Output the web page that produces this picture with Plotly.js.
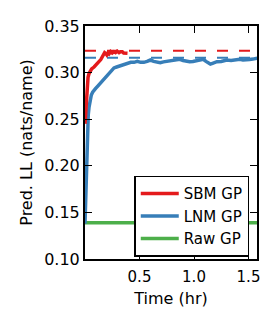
<!DOCTYPE html>
<html><head><meta charset="utf-8">
<script src="https://cdn.plot.ly/plotly-3.0.1.min.js"></script>
<style>html,body{margin:0;padding:0;background:#fff;}#chart{width:276px;height:327px;}</style>
</head><body><div id="chart"></div>
<script>
const sbmT = [0, 0.005, 0.009, 0.015, 0.021, 0.028, 0.037, 0.046, 0.061, 0.083, 0.107, 0.128, 0.145, 0.159, 0.17, 0.18, 0.19, 0.2, 0.21, 0.22, 0.235, 0.25, 0.266, 0.28, 0.295, 0.312, 0.325, 0.342, 0.355, 0.37, 0.39];
const sbmV = [0.245, 0.255, 0.267, 0.279, 0.289, 0.295, 0.299, 0.301, 0.304, 0.306, 0.309, 0.311, 0.314, 0.317, 0.319, 0.3214, 0.3205, 0.319, 0.321, 0.320, 0.3225, 0.321, 0.3224, 0.3215, 0.323, 0.3214, 0.3224, 0.3224, 0.321, 0.3205, 0.3207];
const lnmT = [0, 0.005, 0.01, 0.015, 0.021, 0.03, 0.037, 0.045, 0.058, 0.07, 0.085, 0.098, 0.113, 0.128, 0.143, 0.159, 0.175, 0.19, 0.205, 0.22, 0.24, 0.266, 0.29, 0.312, 0.335, 0.358, 0.39, 0.42, 0.45, 0.48, 0.51, 0.54, 0.57, 0.6, 0.63, 0.66, 0.69, 0.72, 0.75, 0.78, 0.81, 0.84, 0.87, 0.9, 0.93, 0.96, 0.99, 1.02, 1.05, 1.085, 1.11, 1.13, 1.15, 1.17, 1.21, 1.25, 1.3, 1.34, 1.38, 1.42, 1.45, 1.48, 1.51, 1.54, 1.56, 1.58];
const lnmV = [0.138, 0.16, 0.19, 0.22, 0.245, 0.255, 0.263, 0.27, 0.276, 0.279, 0.282, 0.283, 0.285, 0.287, 0.288, 0.290, 0.292, 0.294, 0.297, 0.299, 0.302, 0.305, 0.306, 0.307, 0.308, 0.309, 0.310, 0.311, 0.311, 0.312, 0.311, 0.311, 0.312, 0.3135, 0.312, 0.311, 0.3106, 0.3115, 0.312, 0.3128, 0.313, 0.3135, 0.3143, 0.313, 0.312, 0.3117, 0.312, 0.3128, 0.313, 0.3143, 0.312, 0.310, 0.3092, 0.310, 0.3117, 0.312, 0.3135, 0.313, 0.3135, 0.3143, 0.3135, 0.3135, 0.314, 0.3145, 0.315, 0.3155];
const rawT = [0, 1.6];
const rawV = [0.139, 0.139];
const sbmBest = 0.3235;
const lnmBest = 0.3158;
const fullT = [0, 1.6];
const yTicks = [0.10, 0.15, 0.20, 0.25, 0.30, 0.35];
const yTickText = ['0.10', '0.15', '0.20', '0.25', '0.30', '0.35'];
const xTicks = [0.5, 1.0, 1.5];
const xTickText = ['0.5', '1.0', '1.5'];

const red = '#e41a1c', blue = '#377eb8', green = '#4daf4a';
const FONT = 'DejaVu Sans, sans-serif';

const traces = [
  {x: fullT, y: [sbmBest, sbmBest], mode: 'lines', line: {color: red, width: 2, dash: '11px,11px'}, showlegend: false, hoverinfo: 'skip'},
  {x: fullT, y: [lnmBest, lnmBest], mode: 'lines', line: {color: blue, width: 2, dash: '11px,11px'}, showlegend: false, hoverinfo: 'skip'},
  {x: rawT, y: rawV, mode: 'lines', name: 'Raw GP', line: {color: green, width: 3.5}, legendgroup: 'c', legendrank: 3},
  {x: lnmT, y: lnmV, mode: 'lines', name: 'LNM GP', line: {color: blue, width: 3.5}, legendgroup: 'b', legendrank: 2},
  {x: sbmT, y: sbmV, mode: 'lines', name: 'SBM GP', line: {color: red, width: 3.5}, legendgroup: 'a', legendrank: 1}
];

const axisCommon = {
  showgrid: false, zeroline: false, showline: true, linecolor: '#000', linewidth: 2,
  mirror: 'allticks', ticks: 'inside', ticklen: 7, tickwidth: 1, tickcolor: '#000'
};

const layout = {
  width: 276, height: 327,
  margin: {l: 85, r: 19, t: 26, b: 68},
  paper_bgcolor: '#fff', plot_bgcolor: '#fff',
  xaxis: Object.assign({}, axisCommon, {
    range: [0, 1.578], tickvals: xTicks, ticktext: xTickText, ticklabelstandoff: 3,
    tickfont: {family: FONT, size: 15, color: '#000'},
    title: {text: 'Time (hr)', font: {family: FONT, size: 16, color: '#000'}, standoff: 8}
  }),
  yaxis: Object.assign({}, axisCommon, {
    range: [0.10, 0.35], tickvals: yTicks, ticktext: yTickText,
    tickfont: {family: FONT, size: 16, color: '#000'},
    title: {text: 'Pred. LL (nats/name)', font: {family: FONT, size: 16, color: '#000'}, standoff: 8}
  }),
  legend: {
    x: 0.955, y: 0.01, xanchor: 'right', yanchor: 'bottom',
    bgcolor: '#fff', bordercolor: '#000', borderwidth: 1.5,
    font: {family: FONT, size: 15, color: '#000'},
    tracegroupgap: 0, traceorder: 'grouped', itemwidth: 38
  },
  showlegend: true
};

Plotly.newPlot('chart', traces, layout, {staticPlot: true, displayModeBar: false});
</script></body></html>
